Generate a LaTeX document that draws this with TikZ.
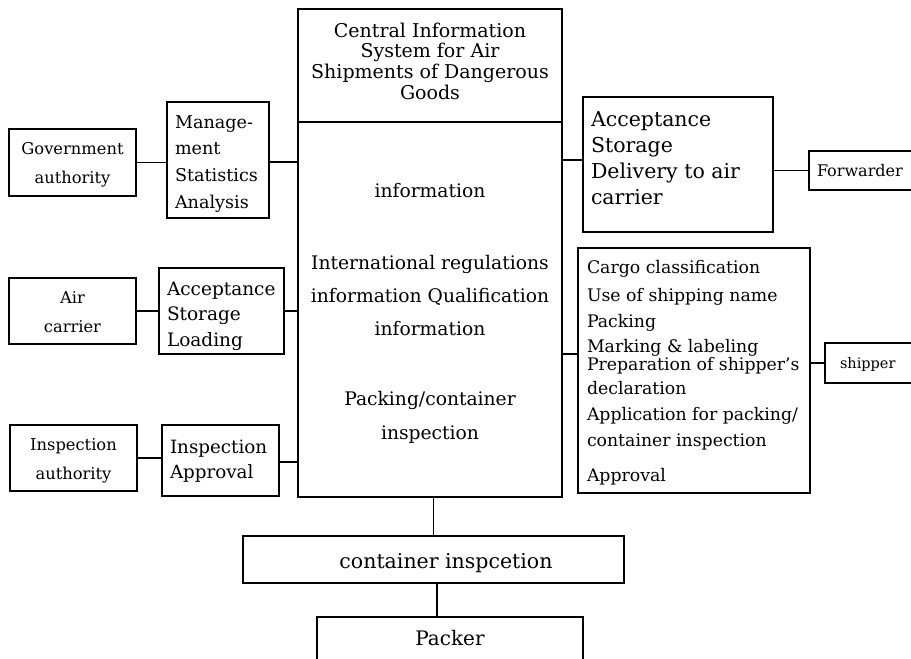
\documentclass[tikz,border=0pt]{standalone}
\usepackage{fontspec}
\setmainfont{DejaVu Serif}
\usetikzlibrary{calc}

% #1 width, #2 height, #3 space above the first line, #4 font, alignment and lines
\newcommand\boxtext[4]{\begin{minipage}[c][#2][t]{#1}\lineskiplimit=-\maxdimen\parindent=0pt\vspace*{#3}#4\end{minipage}}
\newcommand\firstline{\rule{0pt}{16pt}}
\newcommand\lefttext[2]{\fontsize{#1}{#2}\selectfont\raggedright\leftskip=8pt\firstline}
\newcommand\midtext[2]{\fontsize{#1}{#2}\selectfont\centering\firstline}

\tikzset{
  panel/.style={draw, line width=1.4pt, inner sep=0pt, outer sep=0pt, anchor=north west},
  link/.style={line width=1.3pt},
}

\begin{document}
\begin{tikzpicture}[x=1pt, y=-1pt]
\useasboundingbox (0,0) rectangle (911,659);
\fill[white] (0,0) rectangle (911,659);
\clip (0,0) rectangle (911,659);

% central information system
\node[panel] (ctitle) at (298,9) {\boxtext{264pt}{113pt}{12pt}{\midtext{19}{20.8}%
  Central Information\\System for Air\\Shipments of Dangerous\\Goods}};
\node[panel] (cmain) at (298,122) {\boxtext{264pt}{375pt}{59pt}{\midtext{18.7}{33.3}%
  information\\[38.7pt]International regulations\\information Qualification\\information\\[37pt]Packing/container\\inspection}};

% left side
\node[panel] (gov) at (9,129) {\boxtext{127pt}{67pt}{9pt}{\midtext{16.3}{29}Government\\authority}};
\node[panel] (mgmt) at (167,102) {\boxtext{102pt}{116pt}{10pt}{\lefttext{17.6}{26.7}Manage-\\ment\\Statistics\\Analysis}};
\node[panel] (air) at (9,278) {\boxtext{127pt}{66pt}{9pt}{\midtext{16.3}{29}Air\\carrier}};
\node[panel] (asl) at (159,268) {\boxtext{125pt}{86pt}{11pt}{\lefttext{18.5}{25.5}Acceptance\\Storage\\Loading}};
\node[panel] (iauth) at (10,425) {\boxtext{127pt}{66pt}{9pt}{\midtext{16.3}{29}Inspection\\authority}};
\node[panel] (iapp) at (162,425) {\boxtext{117pt}{71pt}{12pt}{\lefttext{18.3}{25}Inspection\\Approval}};

% right side
\node[panel] (asd) at (583,97) {\boxtext{190pt}{135pt}{13pt}{\lefttext{20.5}{26.3}Acceptance\\Storage\\Delivery to air\\carrier}};
\node[panel] (fwd) at (809,151) {\boxtext{104pt}{39pt}{9pt}{\lefttext{16}{20}Forwarder}};
\node[panel] (ship) at (578,248) {\boxtext{232pt}{245pt}{9pt}{\lefttext{17.3}{26}\leftskip=9pt
  Cargo classification\\[2pt]Use of shipping name\\Packing\\[-1pt]Marking \& labeling\\[-8pt]Preparation of shipper's\\[-2pt]declaration\\Application for packing/\\container inspection\\[9pt]Approval}};
\node[panel] (shipper) at (825,343) {\boxtext{88pt}{40pt}{9pt}{\lefttext{14.5}{20}\leftskip=15pt shipper}};

% bottom
\node[panel] (cinsp) at (243,536) {\boxtext{381pt}{47pt}{16pt}{\midtext{20.5}{24}\hspace*{25pt}container inspcetion}};
\node[panel] (packer) at (317,617) {\boxtext{266pt}{60pt}{12pt}{\midtext{20}{24}Packer}};

% connectors
\draw[link] (gov.east) -- (gov.east -| mgmt.west);
\coordinate (m1) at ($(mgmt.east)+(0,2)$);
\draw[link] (m1) -- (m1 -| cmain.west);
\draw[link] (air.east) -- (air.east -| asl.west);
\draw[link] (asl.east) -- (asl.east -| cmain.west);
\draw[link] (iauth.east) -- (iauth.east -| iapp.west);
\coordinate (i1) at ($(iapp.east)+(0,1.5)$);
\draw[link] (i1) -- (i1 -| cmain.west);
\coordinate (a1) at ($(asd.west)+(0,-4.5)$);
\draw[link] (a1) -- (a1 -| cmain.east);
\draw[link] (fwd.west) -- (fwd.west -| asd.east);
\coordinate (s1) at ($(ship.west)+(0,-16.5)$);
\draw[link] (s1) -- (s1 -| cmain.east);
\draw[link] (shipper.west) -- (shipper.west -| ship.east);
\draw[link] (cinsp.north) -- (cinsp.north |- cmain.south);
\coordinate (c1) at ($(cinsp.south)+(3.5,0)$);
\draw[link] (c1) -- (c1 |- packer.north);
\end{tikzpicture}
\end{document}
